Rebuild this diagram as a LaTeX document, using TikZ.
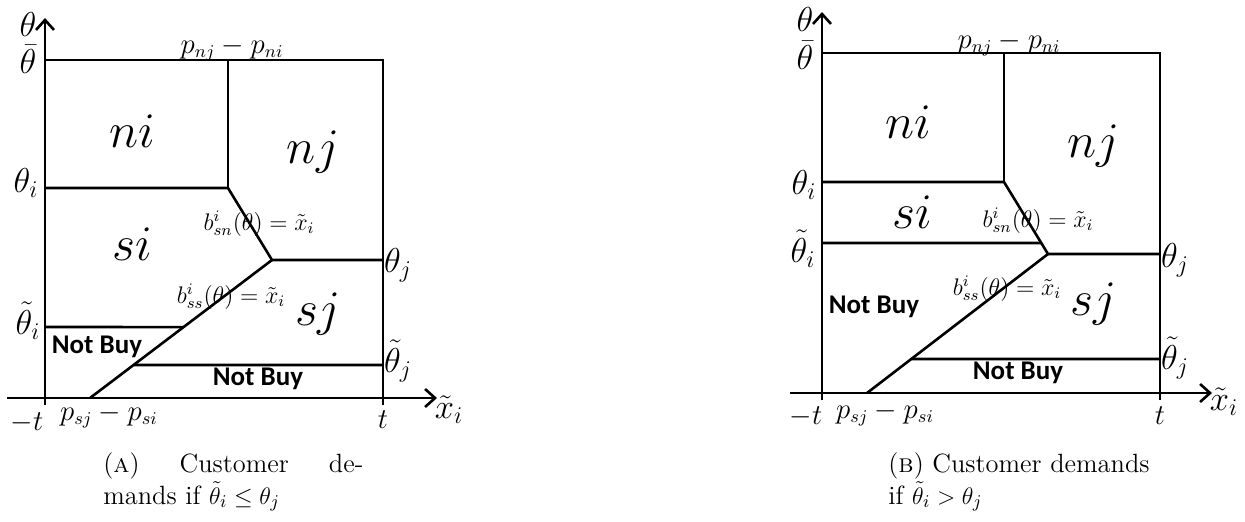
\documentclass[tikz,border=0pt]{standalone}
\usepackage{fontspec}
\usepackage{amsmath}
\usepackage{tikz}
\usetikzlibrary{arrows.meta, positioning, calc}
\newfontfamily\carlito{Carlito}
\tikzset{
  bound/.style={line width=1.3pt, color=black},
  axis/.style={line width=1.3pt, color=black, -{Straight Barb[length=5pt, width=9pt]}},
  lbl/.style={font=\fontsize{17}{19}\selectfont, inner sep=0pt},
  endlbl/.style={font=\fontsize{15}{17}\selectfont, inner sep=0pt},
  price/.style={font=\fontsize{13.5}{15}\selectfont, inner sep=0pt},
  region/.style={font=\fontsize{23}{25}\selectfont, inner sep=0pt},
  curve/.style={font=\fontsize{11.5}{13}\selectfont, inner sep=0pt},
  nobuy/.style={font=\carlito\bfseries\fontsize{13.5}{15}\selectfont, inner sep=0pt},
  caption/.style={font=\fontsize{13.2}{16}\selectfont, align=left,
    anchor=north west, inner sep=0pt}
}

\begin{document}
\begin{tikzpicture}[x=0.5pt, y=-0.5pt]
  \useasboundingbox (0,0) rectangle (1245,521);

  % (a) theta tilde i below theta j
  \coordinate (xlA) at (7,398);
  \coordinate (xrA) at (437,398);
  \coordinate (ybA) at (45,405);
  \coordinate (ytA) at (45,18);
  \coordinate (tlA) at (45,60);
  \coordinate (trA) at (383,60);
  \coordinate (tbA) at (383,405);
  \coordinate (pnA) at (228,60);
  \coordinate (knA) at (228,188);
  \coordinate (thiA) at (45,188);
  \coordinate (ksA) at (272,260);
  \coordinate (thjA) at (383,260);
  \coordinate (psA) at (90,398);
  \coordinate (ttiA) at (45,327);
  \coordinate (ttjA) at (383,365);
  \coordinate (ciA) at ($(psA)!0.514!(ksA)$);
  \coordinate (cjA) at ($(psA)!0.239!(ksA)$);

  \draw[axis] (xlA) -- (xrA);
  \draw[axis] (ybA) -- (ytA);
  \draw[bound] (tlA) -- (trA) -- (tbA);
  \draw[bound] (pnA) -- (knA);
  \draw[bound] (thiA) -- (knA) -- (ksA) -- (thjA);
  \draw[bound] (ksA) -- (psA);
  \draw[bound] (ttiA) -- (ciA);
  \draw[bound] (cjA) -- (ttjA);

  \node[lbl] (thA) at (28,24) {$\theta$};
  \node[lbl] (thbarA) at (28,59) {$\bar{\theta}$};
  \node[price, anchor=base] (pnjA) at (232,53) {$p_{nj}-p_{ni}$};
  \node[region, anchor=base] (niA) at (132,147) {$ni$};
  \node[region, anchor=base] (njA) at (313,163) {$nj$};
  \node[lbl, anchor=base] (thetaiA) at (26,192) {$\theta_i$};
  \node[curve, anchor=base] (bsnA) at (259,230) {$b^{i}_{sn}(\theta)=\tilde{x}_i$};
  \node[region, anchor=base] (siA) at (132,260) {$si$};
  \node[lbl, anchor=base] (thetajA) at (398,272) {$\theta_j$};
  \node[curve, anchor=base] (bssA) at (231,303) {$b^{i}_{ss}(\theta)=\tilde{x}_i$};
  \node[region, anchor=base] (sjA) at (318,325) {$sj$};
  \node[lbl, anchor=base] (tthetaiA) at (28,334) {$\tilde{\theta}_i$};
  \node[nobuy] (nb1A) at (97,347) {Not Buy};
  \node[lbl, anchor=base] (tthetajA) at (398,372) {$\tilde{\theta}_j$};
  \node[nobuy] (nb2A) at (258,379) {Not Buy};
  \node[endlbl, anchor=base] (mtA) at (27,430) {$-t$};
  \node[price, anchor=base] (psjA) at (109,420) {$p_{sj}-p_{si}$};
  \node[endlbl, anchor=base] (ptA) at (383,428) {$t$};
  \node[lbl, anchor=base] (xiA) at (449,418) {$\tilde{x}_i$};

  \node[caption] (capA) at (103,452)
    {\makebox[130pt][s]{(\textsc{a}) Customer de-}\\mands if $\tilde{\theta}_i\leq\theta_j$};

  % (b) theta tilde i above theta j
  \coordinate (xlB) at (790,393);
  \coordinate (xrB) at (1212,393);
  \coordinate (ybB) at (822,400);
  \coordinate (ytB) at (822,12);
  \coordinate (tlB) at (822,53);
  \coordinate (trB) at (1160,53);
  \coordinate (tbB) at (1160,400);
  \coordinate (pnB) at (1004,53);
  \coordinate (knB) at (1004,182);
  \coordinate (thiB) at (822,182);
  \coordinate (ksB) at (1048,254);
  \coordinate (thjB) at (1160,254);
  \coordinate (psB) at (867,393);
  \coordinate (ttiB) at (822,243);
  \coordinate (ttjB) at (1160,359);
  \coordinate (ciB) at ($(knB)!0.847!(ksB)$);
  \coordinate (cjB) at ($(psB)!0.245!(ksB)$);

  \draw[axis] (xlB) -- (xrB);
  \draw[axis] (ybB) -- (ytB);
  \draw[bound] (tlB) -- (trB) -- (tbB);
  \draw[bound] (pnB) -- (knB);
  \draw[bound] (thiB) -- (knB) -- (ksB) -- (thjB);
  \draw[bound] (ksB) -- (psB);
  \draw[bound] (ttiB) -- (ciB);
  \draw[bound] (cjB) -- (ttjB);

  \node[lbl] (thB) at (805,19) {$\theta$};
  \node[lbl] (thbarB) at (805,55) {$\bar{\theta}$};
  \node[price, anchor=base] (pnjB) at (1009,48) {$p_{nj}-p_{ni}$};
  \node[region, anchor=base] (niB) at (908,138) {$ni$};
  \node[region, anchor=base] (njB) at (1093,157) {$nj$};
  \node[lbl, anchor=base] (thetaiB) at (804,194) {$\theta_i$};
  \node[region, anchor=base] (siB) at (912,228) {$si$};
  \node[curve, anchor=base] (bsnB) at (1038,227) {$b^{i}_{sn}(\theta)=\tilde{x}_i$};
  \node[lbl, anchor=base] (tthetaiB) at (803,262) {$\tilde{\theta}_i$};
  \node[lbl, anchor=base] (thetajB) at (1175,267) {$\theta_j$};
  \node[curve, anchor=base] (bssB) at (1007,295) {$b^{i}_{ss}(\theta)=\tilde{x}_i$};
  \node[nobuy] (nb1B) at (874,307) {Not Buy};
  \node[region, anchor=base] (sjB) at (1093,315) {$sj$};
  \node[lbl, anchor=base] (tthetajB) at (1175,369) {$\tilde{\theta}_j$};
  \node[nobuy] (nb2B) at (1018,373) {Not Buy};
  \node[endlbl, anchor=base] (mtB) at (806,424) {$-t$};
  \node[price, anchor=base] (psjB) at (885,418) {$p_{sj}-p_{si}$};
  \node[endlbl, anchor=base] (ptB) at (1160,424) {$t$};
  \node[lbl, anchor=base] (xiB) at (1224,410) {$\tilde{x}_i$};

  \node[caption] (capB) at (888,452)
    {(\textsc{b}) Customer demands\\if $\tilde{\theta}_i>\theta_j$};
\end{tikzpicture}
\end{document}
